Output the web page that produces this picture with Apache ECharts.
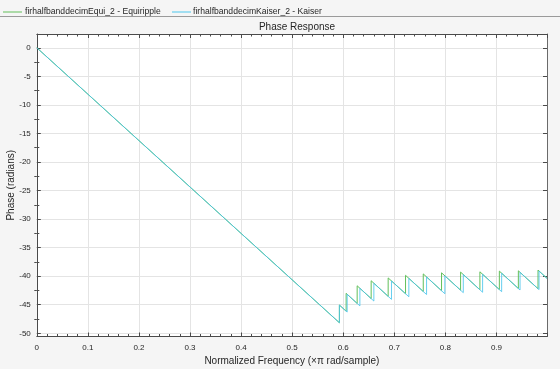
<!DOCTYPE html>
<html>
<head>
<meta charset="utf-8">
<script src="https://cdn.jsdelivr.net/npm/echarts@6/dist/echarts.min.js"></script>
<style>
html,body{margin:0;padding:0;background:#f5f5f5;}
#chart{width:560px;height:369px;}
</style>
</head>
<body>
<div id="chart"></div>
<script>
// ---- data ----
const seriesNames = ['firhalfbanddecimEqui_2 - Equiripple', 'firhalfbanddecimKaiser_2 - Kaiser'];

// [normalized frequency, phase (radians)]
const equiripplePhase = [
  [0, 0],
  [0.5925, -48.15], [0.5925, -45.05],
  [0.6057, -46.12], [0.6057, -43.00],
  [0.6273, -44.77], [0.6273, -41.68],
  [0.6547, -43.92], [0.6547, -40.80],
  [0.6880, -43.53], [0.6880, -40.30],
  [0.7220, -43.07], [0.7220, -39.85],
  [0.7567, -42.68], [0.7567, -39.60],
  [0.7925, -42.54], [0.7925, -39.41],
  [0.8298, -42.45], [0.8298, -39.28],
  [0.8676, -42.38], [0.8676, -39.23],
  [0.9057, -42.34], [0.9057, -39.11],
  [0.9429, -42.15], [0.9429, -39.06],
  [0.9814, -42.19], [0.9814, -38.93],
  [0.999, -40.37]
];

const kaiserPhase = [
  [0, 0],
  [0.5925, -48.15], [0.5925, -45.05],
  [0.6077, -46.28], [0.6077, -43.16],
  [0.6326, -45.20], [0.6326, -42.11],
  [0.6600, -44.35], [0.6600, -41.23],
  [0.6945, -44.06], [0.6945, -40.83],
  [0.7285, -43.60], [0.7285, -40.38],
  [0.7632, -43.21], [0.7632, -40.13],
  [0.7990, -43.07], [0.7990, -39.94],
  [0.8351, -42.88], [0.8351, -39.71],
  [0.8729, -42.81], [0.8729, -39.66],
  [0.9102, -42.71], [0.9102, -39.48],
  [0.9462, -42.42], [0.9462, -39.33],
  [0.9834, -42.35], [0.9834, -39.09],
  [0.999, -40.40]
];

const xTickLabels = ['0', '0.1', '0.2', '0.3', '0.4', '0.5', '0.6', '0.7', '0.8', '0.9'];
const yMajorTicks = [-50, -45, -40, -35, -30, -25, -20, -15, -10, -5, 0];
const yMinorTicks = [-47.5, -42.5, -37.5, -32.5, -27.5, -22.5, -17.5, -12.5, -7.5, -2.5];
const yMin = -50.56, yMax = 2.41;
const xMin = 0, xMax = 0.999;

// ---- styling ----
const FONT = '"Liberation Sans", Arial, Helvetica, sans-serif';
const TXT = '#262626';
const AX = '#4a4a4a';
const GRIDC = '#e4e4e4';
const GREEN = '#62bf5a';
const BLUE = '#4cc6ec';

function xLabelFmt(v) {
  const i = Math.round(v * 10);
  if (Math.abs(v * 10 - i) < 1e-6 && i >= 0 && i < xTickLabels.length) return xTickLabels[i];
  return '';
}

const xBase = {
  type: 'value', min: xMin, max: xMax, interval: 0.1,
  axisLine: {show: true, onZero: false, lineStyle: {color: AX, width: 1}},
  axisTick: {show: true, inside: true, length: 4, lineStyle: {color: AX}},
  minorTick: {show: true, splitNumber: 5, length: 2.5, lineStyle: {color: AX}},
  minorSplitLine: {show: false}
};

const chart = echarts.init(document.getElementById('chart'), null, {renderer: 'canvas'});
chart.setOption({
  animation: false,
  backgroundColor: '#f5f5f5',
  textStyle: {fontFamily: FONT},
  title: {
    text: 'Phase Response',
    left: 292, top: 17, textAlign: 'center',
    textStyle: {fontSize: 10, fontWeight: 'normal', color: TXT, fontFamily: FONT}
  },
  legend: [
    {
      data: [seriesNames[0]], left: 3, top: 7.5, padding: 0,
      icon: 'rect', itemWidth: 19, itemHeight: 1, itemGap: 4,
      textStyle: {fontSize: 8.6, color: TXT, fontFamily: FONT, padding: [0, 0, 0, -2]}
    },
    {
      data: [seriesNames[1]], left: 172, top: 7.5, padding: 0,
      icon: 'rect', itemWidth: 19, itemHeight: 1, itemGap: 4,
      textStyle: {fontSize: 8.6, color: TXT, fontFamily: FONT, padding: [0, 0, 0, -3]}
    }
  ],
  graphic: [
    {type: 'line', z: 100, shape: {x1: 0, y1: 16.5, x2: 560, y2: 16.5}, style: {stroke: '#9a9a9a', lineWidth: 1}, silent: true}
  ],
  grid: {left: 36.8, right: 13, top: 34, bottom: 32.5, show: true, backgroundColor: '#ffffff', borderWidth: 0, containLabel: false, outerBoundsMode: 'none'},
  xAxis: [
    Object.assign({}, xBase, {
      position: 'bottom',
      name: 'Normalized Frequency (\u00d7\u03c0 rad/sample)',
      nameLocation: 'middle', nameGap: 19.5,
      nameTextStyle: {fontSize: 10, color: TXT, fontFamily: FONT},
      axisLabel: {show: true, margin: 7, fontSize: 8, color: TXT, fontFamily: FONT, formatter: xLabelFmt, showMaxLabel: false},
      splitLine: {show: true, lineStyle: {color: GRIDC, width: 1}}
    }),
    Object.assign({}, xBase, {
      position: 'top',
      axisLabel: {show: false},
      splitLine: {show: false}
    })
  ],
  yAxis: [
    {
      type: 'value', min: yMin, max: yMax, position: 'left',
      name: 'Phase (radians)', nameLocation: 'middle', nameGap: 21, nameMoveOverlap: false,
      nameTextStyle: {fontSize: 10, color: TXT, fontFamily: FONT},
      axisLine: {show: true, onZero: false, lineStyle: {color: AX, width: 1}},
      axisTick: {show: true, inside: true, length: 4, customValues: yMajorTicks, lineStyle: {color: AX}},
      axisLabel: {show: true, margin: 6, fontSize: 8, color: TXT, fontFamily: FONT, customValues: yMajorTicks},
      splitLine: {show: true, lineStyle: {color: GRIDC, width: 1}}
    },
    {
      type: 'value', min: yMin, max: yMax, position: 'left',
      axisLine: {show: false},
      axisTick: {show: true, inside: true, length: 2.5, customValues: yMinorTicks, lineStyle: {color: AX}},
      axisLabel: {show: false},
      splitLine: {show: false}
    },
    {
      type: 'value', min: yMin, max: yMax, position: 'right',
      axisLine: {show: true, onZero: false, lineStyle: {color: '#6a6a6a', width: 1}},
      axisTick: {show: true, inside: true, length: 4, customValues: yMajorTicks, lineStyle: {color: AX}},
      axisLabel: {show: false},
      splitLine: {show: false}
    },
    {
      type: 'value', min: yMin, max: yMax, position: 'right',
      axisLine: {show: false},
      axisTick: {show: true, inside: true, length: 2.5, customValues: yMinorTicks, lineStyle: {color: AX}},
      axisLabel: {show: false},
      splitLine: {show: false}
    }
  ],
  series: [
    {
      name: seriesNames[0], type: 'line', data: equiripplePhase,
      xAxisIndex: 0, yAxisIndex: 0,
      symbol: 'none', showSymbol: false, smooth: false, z: 3,
      color: GREEN, lineStyle: {color: GREEN, width: 1}
    },
    {
      name: seriesNames[1], type: 'line', data: kaiserPhase,
      xAxisIndex: 0, yAxisIndex: 0,
      symbol: 'none', showSymbol: false, smooth: false, z: 4,
      color: BLUE, lineStyle: {color: BLUE, width: 1, opacity: 0.85}
    }
  ]
});
</script>
</body>
</html>
